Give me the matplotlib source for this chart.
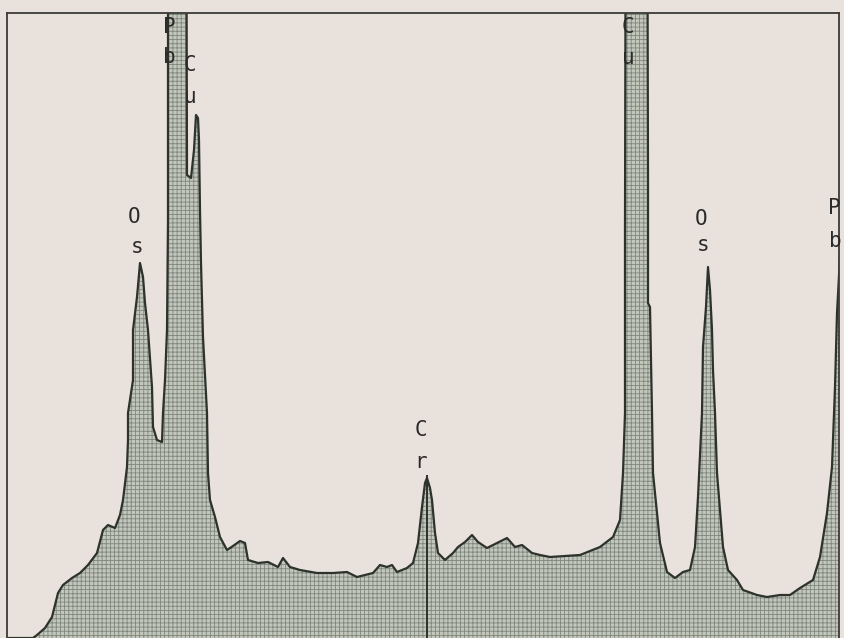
import numpy as np
import matplotlib
matplotlib.use("Agg")
import matplotlib.pyplot as plt

# spectrum outline: channel and counts (arbitrary units)
channels = [0, 26, 30, 38, 45, 51, 56, 65, 73, 81, 90, 96, 101, 108, 113, 116,
            120, 121, 121, 126, 126, 130, 133, 136, 138, 141, 145, 146, 150,
            155, 156, 158, 160, 161, 161, 179, 180, 184, 187, 189, 191, 192,
            193, 194, 196, 200, 201, 203, 208, 213, 220, 226, 233, 238, 241,
            251, 261, 271, 276, 283, 293, 310, 326, 340, 350, 366, 373, 380,
            385, 390, 400, 406, 411, 415, 418, 420, 423, 425, 428, 431, 438,
            446, 451, 458, 465, 471, 480, 490, 500, 508, 515, 525, 533, 543,
            573, 593, 606, 613, 616, 618, 618, 618, 619, 640, 641, 641, 643,
            645, 646, 650, 653, 660, 668, 676, 683, 688, 691, 695, 696, 699,
            701, 703, 705, 706, 708, 710, 713, 716, 721, 730, 736, 750, 760,
            773, 783, 793, 806, 813, 820, 825, 828, 830, 833]
counts = [0, 0, 3, 10, 21, 45, 53, 60, 65, 73, 85, 108, 113, 110, 123, 138,
          171, 198, 225, 258, 308, 341, 375, 361, 335, 308, 251, 211, 198,
          196, 225, 258, 308, 418, 900, 900, 463, 460, 488, 523, 520, 498,
          428, 375, 301, 225, 165, 138, 121, 101, 88, 92, 97, 95, 78, 75, 76,
          71, 80, 71, 68, 65, 65, 66, 61, 65, 73, 71, 73, 66, 70, 75, 95, 131,
          155, 160, 150, 138, 105, 85, 78, 85, 91, 96, 103, 96, 90, 95, 100,
          91, 93, 85, 83, 81, 83, 91, 101, 118, 165, 225, 291, 411, 900, 900,
          458, 335, 331, 225, 165, 125, 95, 66, 60, 66, 68, 91, 141, 225, 291,
          331, 371, 348, 308, 268, 225, 165, 128, 91, 68, 58, 48, 43, 41, 43,
          43, 50, 58, 81, 125, 171, 251, 325, 381]

cr_channel = 420
cr_peak = 163

# element labels: text, channel, counts (letters stacked vertically)
labels = [
    ("O", 127, 421), ("s", 130, 391),
    ("P", 162, 611), ("b", 162, 581),
    ("C", 183, 573), ("u", 183, 541),
    ("C", 414, 208), ("r", 414, 176),
    ("C", 621, 611), ("u", 621, 580),
    ("O", 694, 419), ("s", 696, 393),
    ("P", 827, 430), ("b", 828, 397),
]

bg = "#e8e1dc"
line_col = "#2d322b"

plt.rcParams["hatch.linewidth"] = 0.6

fig = plt.figure(figsize=(8.44, 6.38), dpi=100, facecolor=bg)
ax = fig.add_axes([7 / 844, 0, 832 / 844, 625 / 638])
ax.set_facecolor(bg)

ax.fill_between(channels, counts, 0, facecolor="#c2c6bb", edgecolor="#7f877c",
                hatch="++++", linewidth=0)
ax.plot(channels, counts, color=line_col, lw=1.6)
ax.vlines(cr_channel, 0, cr_peak, color=line_col, lw=1.4)

for txt, cx, cy in labels:
    ax.text(cx, cy, txt, ha="center", va="center", fontsize=15,
            family="DejaVu Sans Mono", color="#2a2a2a")

ax.set_xlim(0, 832)
ax.set_ylim(0, 625)
ax.set_xticks([])
ax.set_yticks([])
ax.spines["bottom"].set_visible(False)
for s in ["top", "left", "right"]:
    ax.spines[s].set_color("#3a3a3a")
    ax.spines[s].set_linewidth(1.3)

fig.savefig("out.png", dpi=100, facecolor=bg)
